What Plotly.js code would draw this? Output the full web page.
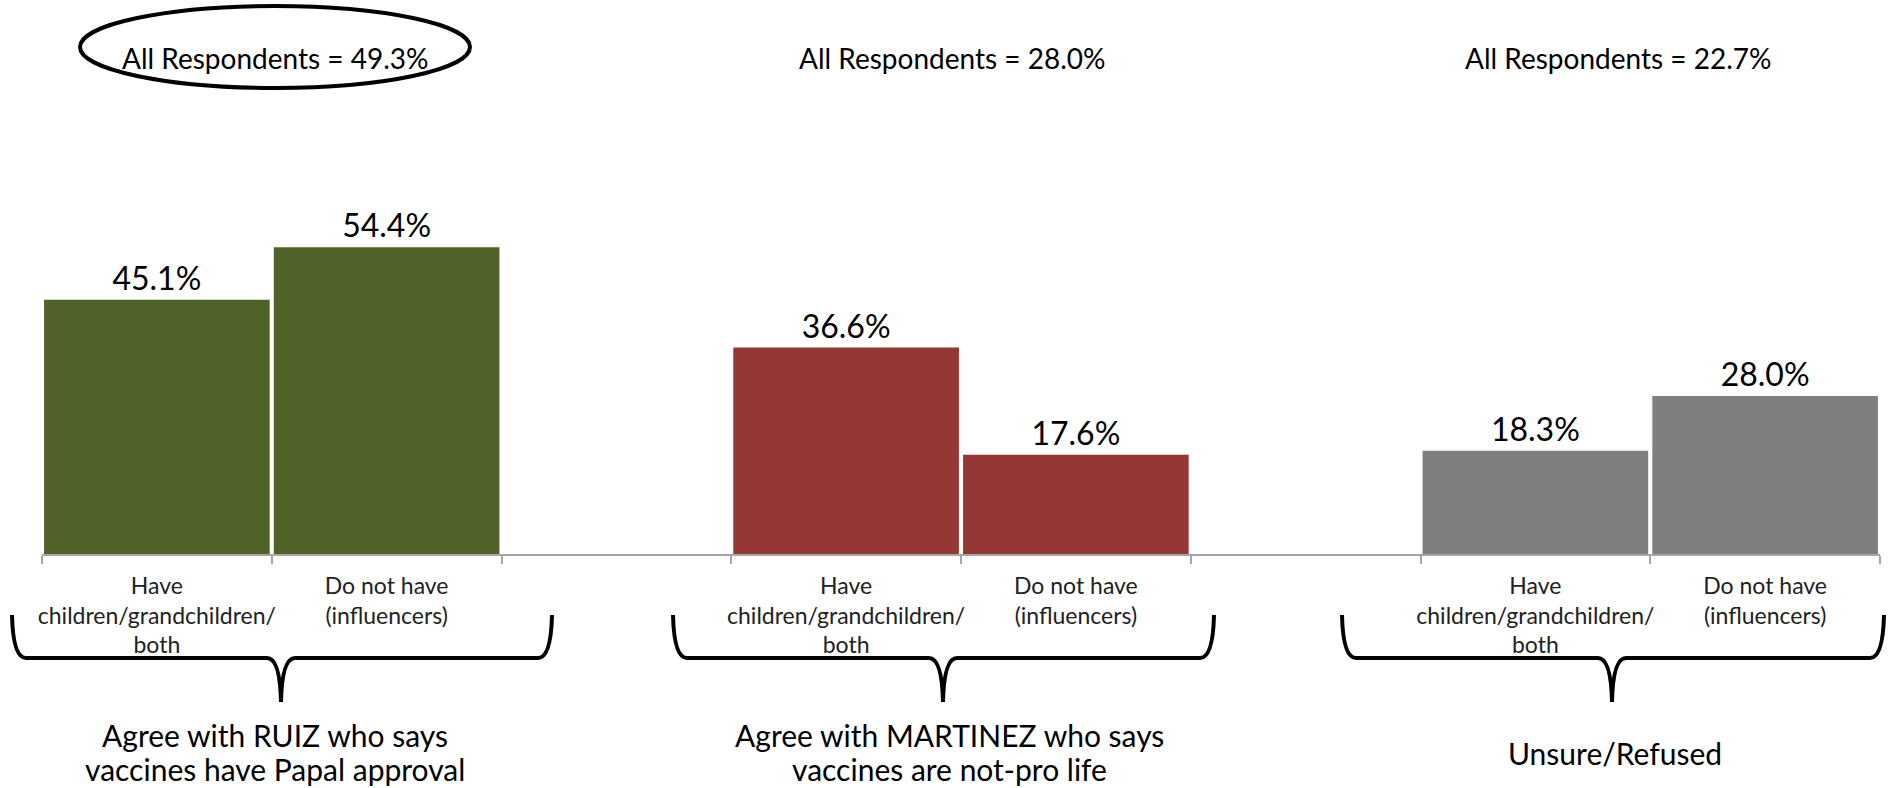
<!DOCTYPE html>
<html>
<head>
<meta charset="utf-8">
<script src="https://cdn.plot.ly/plotly-3.0.1.min.js"></script>
<style>html,body{margin:0;padding:0;background:#fff;}#chart{width:1890px;height:788px;}</style>
</head>
<body>
<div id="chart"></div>
<script>
// ---- data ----
const groupLabels = [
  "Agree with RUIZ who says<br>vaccines have Papal approval",
  "Agree with MARTINEZ who says<br>vaccines are not-pro life",
  "Unsure/Refused"
];
const subgroupLabels = ["Have<br>children/grandchildren/<br>both", "Do not have<br>(influencers)"];
const allRespondents = [49.3, 28.0, 22.7];
const haveValues = [45.1, 36.6, 18.3];
const doNotHaveValues = [54.4, 17.6, 28.0];
const groupColors = ["#4F6228", "#953735", "#7F7F7F"];

// ---- layout helpers (pixel -> paper) ----
const W = 1890, H = 788;
const ML = 42, MR = 10, MT = 100, MB = 234;
const PW = W - ML - MR, PH = H - MT - MB;
const px = x => (x - ML) / PW;
const py = y => (H - MB - y) / PH;
const P = (x, y) => px(x).toFixed(5) + "," + py(y).toFixed(5);

const FONT = "Lato, 'Open Sans', sans-serif";

// x positions: each group occupies two slots, separated by an empty slot
const traces = groupLabels.map((g, i) => ({
  type: "bar",
  x: [i * 3, i * 3 + 1],
  y: [haveValues[i], doNotHaveValues[i]],
  marker: {color: groupColors[i], line: {width: 0}},
  texttemplate: "%{y:.1f}%",
  textposition: "outside",
  textfont: {family: FONT, size: 32, color: "#000"},
  cliponaxis: false,
  hoverinfo: "skip",
  showlegend: false
}));

const tickvals = [], ticktext = [];
groupLabels.forEach((g, i) => {
  subgroupLabels.forEach((s, j) => { tickvals.push(i * 3 + j); ticktext.push(s); });
});
const nSlots = groupLabels.length * 3 - 1;
const boundaries = [];
for (let k = 0; k <= nSlots; k++) boundaries.push(k - 0.5);

// header / group label / brace pixel positions
const headerX = [275, 952, 1618];
const groupLabelX = [275, 949, 1615];
const braces = [[12, 552, 281], [673, 1214, 943], [1342, 1884, 1612]];

const annotations = [];
allRespondents.forEach((v, i) => {
  annotations.push({
    xref: "paper", yref: "paper", x: px(headerX[i]), y: py(58),
    xanchor: "center", yanchor: "middle", showarrow: false,
    text: "All Respondents = " + v.toFixed(1) + "%",
    font: {family: FONT, size: 28, color: "#000"}
  });
});
groupLabels.forEach((g, i) => {
  const lines = g.split("<br>");
  const ys = lines.length === 2 ? [735, 769] : [753];
  lines.forEach((ln, k) => {
    annotations.push({
      xref: "paper", yref: "paper", x: px(groupLabelX[i]), y: py(ys[k]),
      xanchor: "center", yanchor: "middle", showarrow: false,
      text: ln, font: {family: FONT, size: 30, color: "#000"}
    });
  });
});

const shapes = [{
  type: "circle", xref: "paper", yref: "paper",
  x0: px(80), x1: px(470), y0: py(88), y1: py(6),
  line: {color: "#000", width: 4}, fillcolor: "rgba(0,0,0,0)"
}];
const yTop = 615, yMid = 658, yTip = 702;
braces.forEach(([xl, xr, xc]) => {
  const path =
    "M " + P(xl, yTop) +
    " Q " + P(xl + 1, yMid) + " " + P(xl + 14, yMid) +
    " L " + P(xc - 14, yMid) +
    " Q " + P(xc - 1, yMid) + " " + P(xc, yTip) +
    " M " + P(xc, yTip) +
    " Q " + P(xc + 1, yMid) + " " + P(xc + 14, yMid) +
    " L " + P(xr - 14, yMid) +
    " Q " + P(xr - 1, yMid) + " " + P(xr, yTop);
  shapes.push({type: "path", xref: "paper", yref: "paper", path: path,
    line: {color: "#000", width: 4}});
});

const layout = {
  width: W, height: H,
  margin: {l: ML, r: MR, t: MT, b: MB, pad: 0},
  paper_bgcolor: "#fff", plot_bgcolor: "#fff",
  barmode: "overlay", bargap: 0.018,
  showlegend: false,
  xaxis: {
    type: "linear", range: [-0.5, nSlots - 0.5], fixedrange: true,
    tickmode: "array", tickvals: tickvals, ticktext: ticktext,
    ticks: "", showgrid: false, zeroline: false,
    showline: true, linecolor: "#A6A6A6", linewidth: 2,
    ticklabelstandoff: 10,
    tickfont: {family: FONT, size: 23, color: "#222"},
    minor: {tickmode: "array", tickvals: boundaries, ticks: "outside",
      ticklen: 8, tickwidth: 2, tickcolor: "#A6A6A6", showgrid: false}
  },
  yaxis: {visible: false, range: [0, PH / 5.64], fixedrange: true},
  annotations: annotations,
  shapes: shapes
};

Plotly.newPlot("chart", traces, layout, {displayModeBar: false, staticPlot: true});
</script>
</body>
</html>
